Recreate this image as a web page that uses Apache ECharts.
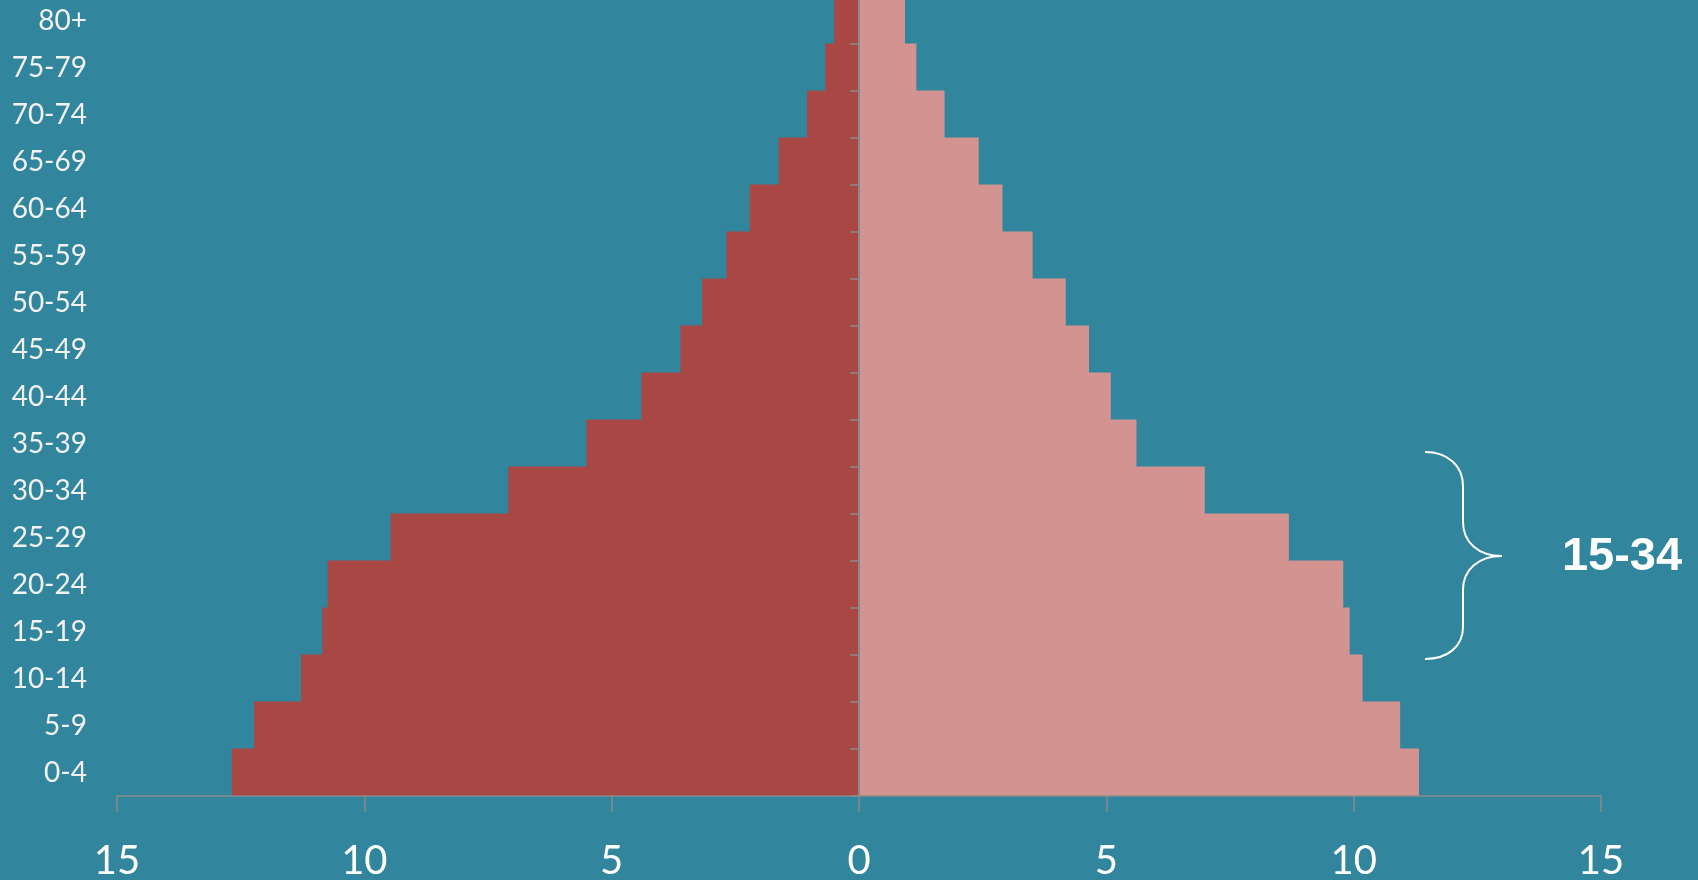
<!DOCTYPE html>
<html>
<head>
<meta charset="utf-8">
<title>Population pyramid</title>
<script src="https://cdn.jsdelivr.net/npm/echarts@6/dist/echarts.min.js"></script>
<style>
  html, body { margin: 0; padding: 0; background: #31859C; }
  #chart { width: 1698px; height: 880px; }
</style>
</head>
<body>
<div id="chart"></div>
<script>
// age bands, bottom to top
const ageGroups = ['0-4', '5-9', '10-14', '15-19', '20-24', '25-29', '30-34', '35-39',
  '40-44', '45-49', '50-54', '55-59', '60-64', '65-69', '70-74', '75-79', '80+'];
// share of population, %
const male = [12.68, 12.23, 11.28, 10.85, 10.74, 9.47, 7.09, 5.51, 4.40, 3.61, 3.17, 2.68, 2.21, 1.62, 1.05, 0.68, 0.50];
const female = [11.32, 10.94, 10.18, 9.92, 9.79, 8.69, 6.99, 5.61, 5.09, 4.65, 4.18, 3.51, 2.90, 2.42, 1.73, 1.16, 0.93];
const xMin = -15;
const xMax = 15;
const xStep = 5;
const braceLabel = '15-34';

const axisGrey = '#8A8A8A';
const maleColor = '#A94744';
const femaleColor = '#D29391';
const chart = echarts.init(document.getElementById('chart'));

// brace pieces (curly bracket to the right of the 15-34 bars)
const braceStyle = { stroke: '#FFFFFF', fill: null, lineWidth: 2 };
function curve(x1, y1, cx1, cy1, cx2, cy2, x2, y2) {
  return {
    type: 'bezierCurve',
    shape: { x1: x1, y1: y1, cpx1: cx1, cpy1: cy1, cpx2: cx2, cpy2: cy2, x2: x2, y2: y2 },
    style: braceStyle
  };
}
function seg(x1, y1, x2, y2) {
  return { type: 'line', shape: { x1: x1, y1: y1, x2: x2, y2: y2 }, style: braceStyle };
}

const option = {
  backgroundColor: '#31859C',
  animation: false,
  grid: {
    left: 117,
    right: 97,
    top: -3,
    bottom: 84,
    outerBoundsMode: 'none'
  },
  xAxis: {
    type: 'value',
    min: xMin,
    max: xMax,
    interval: xStep,
    z: 5,
    splitLine: { show: false },
    axisLine: { show: true, lineStyle: { color: axisGrey, width: 1.5 } },
    axisTick: { show: true, length: 16, lineStyle: { color: axisGrey, width: 1.5 } },
    axisLabel: {
      color: '#FFFFFF',
      fontFamily: 'Lato',
      fontSize: 40,
      margin: 45,
      formatter: v => Math.abs(v)
    }
  },
  yAxis: [
    {
      // centre axis: line + ticks on the zero value
      type: 'category',
      data: ageGroups,
      z: 5,
      splitLine: { show: false },
      axisLine: { show: true, onZero: true, lineStyle: { color: axisGrey, width: 2 } },
      axisTick: { show: true, length: 9, lineStyle: { color: axisGrey, width: 1.5 } },
      axisLabel: { show: false }
    },
    {
      // labels on the far left
      type: 'category',
      data: ageGroups,
      position: 'left',
      splitLine: { show: false },
      axisLine: { show: false, onZero: false },
      axisTick: { show: false },
      axisLabel: {
        interval: 0,
        color: '#F2F2F2',
        fontFamily: 'Lato',
        fontSize: 28,
        margin: 30
      }
    }
  ],
  series: [
    {
      name: 'Male',
      type: 'bar',
      yAxisIndex: 0,
      data: male.map(v => -v),
      barWidth: 48,
      barGap: '-100%',
      itemStyle: { color: maleColor },
      z: 1
    },
    {
      name: 'Female',
      type: 'bar',
      yAxisIndex: 0,
      data: female,
      barWidth: 48,
      barGap: '-100%',
      itemStyle: { color: femaleColor },
      z: 1
    }
  ],
  graphic: [
    curve(1425, 452, 1448, 452, 1463, 466, 1463, 486),
    seg(1463, 486, 1463, 522),
    curve(1463, 522, 1463, 542, 1478, 556, 1502, 556),
    curve(1502, 556, 1478, 556, 1463, 570, 1463, 590),
    seg(1463, 590, 1463, 627),
    curve(1463, 627, 1463, 646, 1448, 659, 1425, 659),
    {
      type: 'text',
      x: 1622,
      y: 557,
      style: {
        text: braceLabel,
        fill: '#FFFFFF',
        font: 'bold 47px "Liberation Sans", Arial, sans-serif',
        align: 'center',
        verticalAlign: 'middle'
      }
    }
  ]
};

chart.setOption(option);
</script>
</body>
</html>
